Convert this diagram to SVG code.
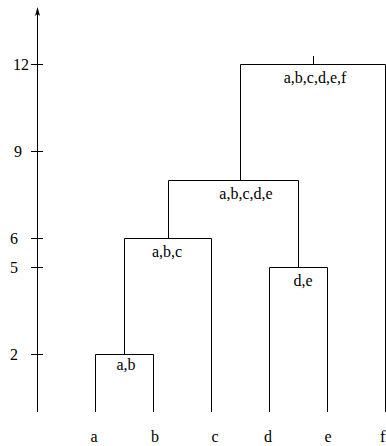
<svg xmlns="http://www.w3.org/2000/svg" width="386" height="446" viewBox="0 0 386 446">
  <style>
    .ln { fill: none; stroke: #000; stroke-width: 1; }
    .tx { font-family: "Liberation Serif", "Times New Roman", "DejaVu Serif", serif; font-size: 16px; fill: #000; }
    .mid { text-anchor: middle; }
  </style>
  <rect width="386" height="446" fill="#fff"/>

  <!-- vertical axis with ticks -->
  <g id="axis">
    <line class="ln" x1="37.5" y1="412" x2="37.5" y2="12"/>
    <path d="M37.5,7 L35,16 L37.5,14 L40,16 Z" fill="#000"/>
    <line class="ln" x1="31" y1="64.5" x2="43" y2="64.5"/>
    <line class="ln" x1="31" y1="151.5" x2="43" y2="151.5"/>
    <line class="ln" x1="31" y1="238.5" x2="43" y2="238.5"/>
    <line class="ln" x1="31" y1="267.5" x2="43" y2="267.5"/>
    <line class="ln" x1="31" y1="354.5" x2="43" y2="354.5"/>
    <text class="tx" x="13" y="69.5">12</text>
    <text class="tx" x="14" y="156.5">9</text>
    <text class="tx" x="10" y="243.5">6</text>
    <text class="tx" x="10" y="272.5">5</text>
    <text class="tx" x="10" y="359.5">2</text>
  </g>

  <!-- leaf labels -->
  <g id="leaves">
    <text class="tx mid" x="94" y="442">a</text>
    <text class="tx mid" x="155" y="442">b</text>
    <text class="tx mid" x="215" y="442">c</text>
    <text class="tx mid" x="268" y="442">d</text>
    <text class="tx mid" x="328" y="442">e</text>
    <text class="tx" x="380" y="442">f</text>
  </g>

  <!-- merge brackets -->
  <g id="connectors">
    <path class="ln" d="M95.5,412 V354.5 H153.5 V412"/>
    <path class="ln" d="M124.5,354.5 V238.5 H211.5 V412"/>
    <path class="ln" d="M269.5,412 V267.5 H327.5 V412"/>
    <path class="ln" d="M168.5,238.5 V180.5 H298.5 V267.5"/>
    <path class="ln" d="M240.5,180.5 V64.5 H385.5 V412"/>
    <path class="ln" d="M313.5,64.5 V56"/>
  </g>

  <g id="node-ab"><text class="tx mid" x="126" y="370">a,b</text></g>
  <g id="node-abc"><text class="tx mid" x="167" y="257">a,b,c</text></g>
  <g id="node-de"><text class="tx mid" x="303" y="286">d,e</text></g>
  <g id="node-abcde"><text class="tx mid" x="246" y="199">a,b,c,d,e</text></g>
  <g id="node-abcdef"><text class="tx mid" x="315" y="83">a,b,c,d,e,f</text></g>
</svg>
